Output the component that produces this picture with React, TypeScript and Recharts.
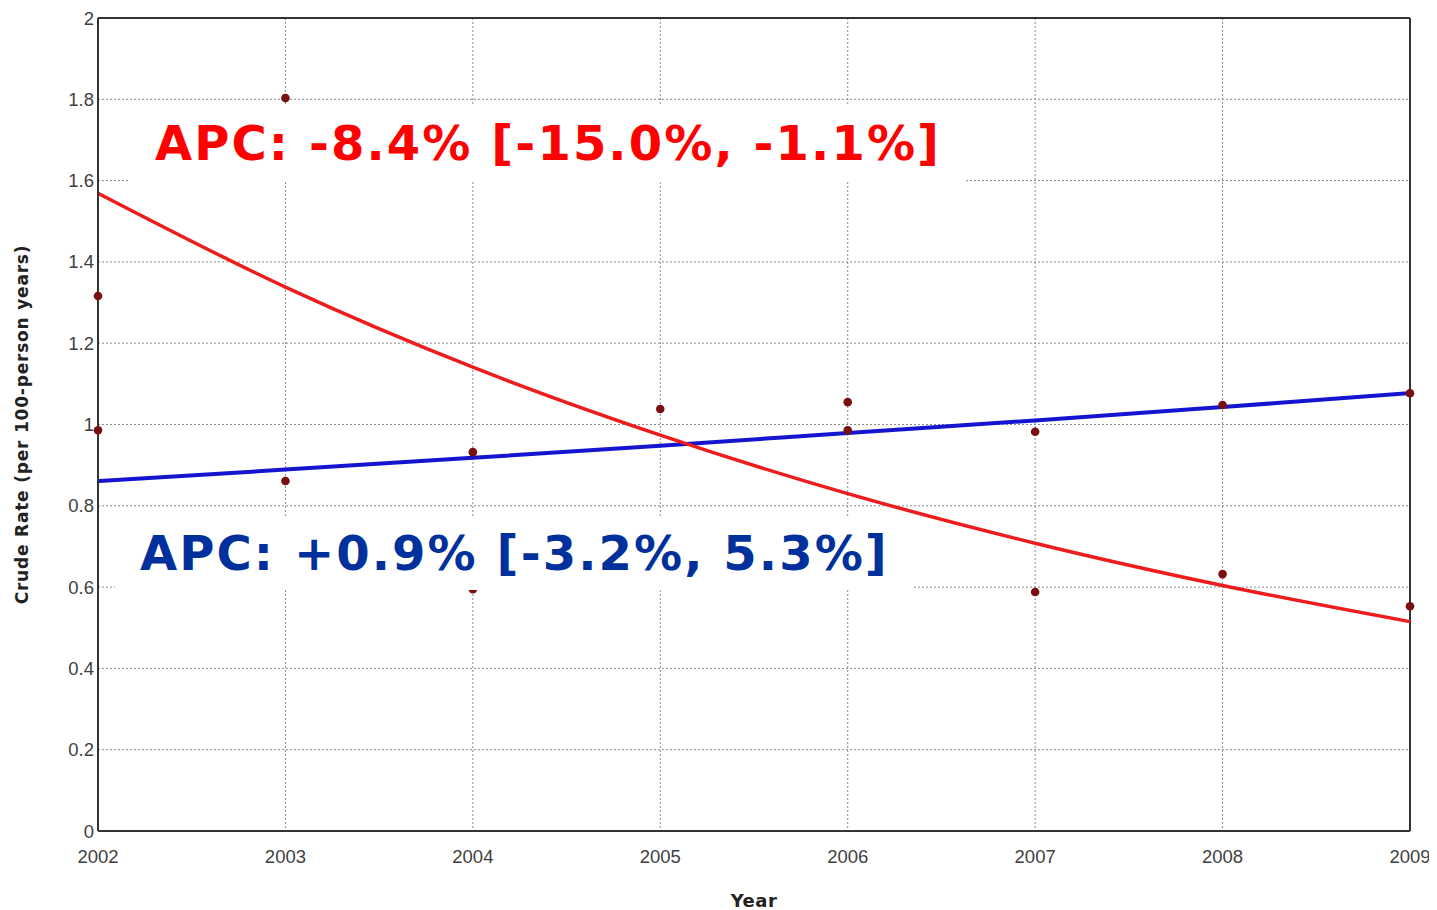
import React from "react";
import {
  ComposedChart,
  Line,
  Scatter,
  XAxis,
  YAxis,
  CartesianGrid,
  ReferenceLine,
} from "recharts";

const years = [2002, 2003, 2004, 2005, 2006, 2007, 2008, 2009];
const yTicks = [0, 0.2, 0.4, 0.6, 0.8, 1, 1.2, 1.4, 1.6, 1.8, 2];

const obsYears = [2002, 2002, 2003, 2003, 2004, 2004, 2005, 2006, 2006, 2007, 2007, 2008, 2008, 2009, 2009];
const obsRates = [1.316, 0.986, 1.803, 0.861, 0.932, 0.595, 1.038, 1.055, 0.986, 0.982, 0.588, 0.632, 1.048, 1.077, 0.553];

const redFit = [1.569, 1.338, 1.141, 0.974, 0.83, 0.708, 0.604, 0.515];
const blueFit = [0.861, 0.889, 0.918, 0.948, 0.979, 1.01, 1.043, 1.077];

const redLabel = "APC: -8.4% [-15.0%, -1.1%]";
const blueLabel = "APC: +0.9% [-3.2%, 5.3%]";

const observed = obsYears.map((y, i) => ({ year: y, rate: obsRates[i] }));
const redData = years.map((y, i) => ({ year: y, fit: redFit[i] }));
const blueData = years.map((y, i) => ({ year: y, fit: blueFit[i] }));

const tickStyle = { fontFamily: "Liberation Sans, Arial, sans-serif", fontSize: 18.5, fill: "#3f3f3f" };
const titleStyle = { fontFamily: "DejaVu Sans, Verdana, sans-serif", fontSize: 17, fontWeight: 700, fill: "#222", letterSpacing: 0.8 };

export default function App() {
  return (
    <div style={{ position: "relative", width: 1429, height: 902 }}>
      <ComposedChart
        width={1429}
        height={902}
        margin={{ top: 10, right: 27, bottom: 0, left: 30 }}
      >
        <CartesianGrid xAxisId="b" yAxisId="l" stroke="#8a8a8a" strokeDasharray="2 2" strokeWidth={1} />
        <XAxis
          xAxisId="b"
          dataKey="year"
          type="number"
          domain={[2002, 2009]}
          ticks={years}
          allowDuplicatedCategory={false}
          axisLine={{ stroke: "#333", strokeWidth: 2 }}
          tickLine={false}
          tickSize={0}
          tick={tickStyle}
          tickMargin={19}
          height={79}
          label={{ value: "Year", position: "insideBottom", offset: 3, style: { ...titleStyle, fontSize: 18, letterSpacing: 0.5 } }}
        />
        <YAxis
          yAxisId="l"
          type="number"
          domain={[0, 2]}
          ticks={yTicks}
          axisLine={{ stroke: "#333", strokeWidth: 2 }}
          tickLine={false}
          tickSize={0}
          tick={tickStyle}
          tickMargin={4}
          width={60}
          label={{ value: "Crude Rate (per 100-person years)", angle: -90, position: "insideLeft", offset: -16, style: { ...titleStyle, textAnchor: "middle" } }}
        />
        <ReferenceLine xAxisId="b" yAxisId="l" y={2} stroke="#333" strokeWidth={2} />
        <ReferenceLine xAxisId="b" yAxisId="l" x={2009} stroke="#333" strokeWidth={2} />
        <Line
          xAxisId="b"
          yAxisId="l"
          data={blueData}
          dataKey="fit"
          type="monotone"
          stroke="#1515cf"
          strokeWidth={4}
          dot={false}
          isAnimationActive={false}
        />
        <Line
          xAxisId="b"
          yAxisId="l"
          data={redData}
          dataKey="fit"
          type="monotone"
          stroke="#ee1c1c"
          strokeWidth={3.5}
          dot={false}
          isAnimationActive={false}
        />
        <Scatter
          xAxisId="b"
          yAxisId="l"
          data={observed}
          dataKey="rate"
          fill="#7a0f0f"
          shape={(p: any) => <circle cx={p.cx} cy={p.cy} r={4.3} fill="#7a0f0f" />}
          isAnimationActive={false}
        />
      </ComposedChart>
      <div
        style={{
          position: "absolute",
          left: 122,
          top: 97,
          width: 835,
          height: 77,
          background: "#fff",
          color: "#ff0000",
          fontFamily: "DejaVu Sans, Verdana, sans-serif",
          fontWeight: 700,
          fontSize: 48,
          letterSpacing: 2.1,
          lineHeight: "77px",
          paddingLeft: 25,
          boxSizing: "border-box",
          whiteSpace: "nowrap",
        }}
      >
        {redLabel}
      </div>
      <div
        style={{
          position: "absolute",
          left: 107,
          top: 508,
          width: 797,
          height: 74,
          background: "#fff",
          color: "#00309c",
          fontFamily: "DejaVu Sans, Verdana, sans-serif",
          fontWeight: 700,
          fontSize: 48,
          letterSpacing: 2.1,
          lineHeight: "74px",
          paddingLeft: 25,
          boxSizing: "border-box",
          whiteSpace: "nowrap",
        }}
      >
        {blueLabel}
      </div>
    </div>
  );
}
